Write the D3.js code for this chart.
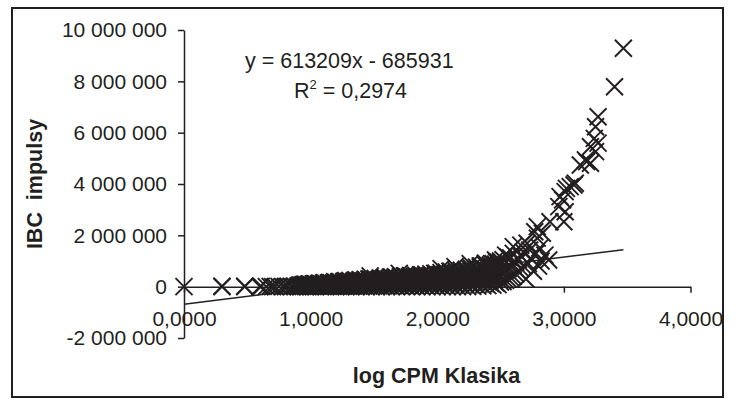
<!DOCTYPE html>
<html><head><meta charset="utf-8">
<script src="https://cdn.jsdelivr.net/npm/d3@7"></script>
<style>
html,body{margin:0;padding:0;background:#fff;}
svg{display:block;font-family:"Liberation Sans",Arial,sans-serif;}
</style></head>
<body><svg id="c" width="739" height="399"></svg>
<script>
// x ticks (log CPM) and y ticks (IBC impulses)
const xTicks = [0, 1, 2, 3, 4];
const yTicks = [-2000000, 0, 2000000, 4000000, 6000000, 8000000, 10000000];
const xTitle = "log CPM Klasika";
const yTitle = "IBC  impulsy";
const eqText = "y = 613209x - 685931";
const r2Text = "0,2974";
const slope = 613209, intercept = -685931;

// low-count points (distinct markers near zero)
const lowPoints = [
 [0.00,0],[0.30,0],[0.30,15000],[0.48,0],[0.48,15000],[0.60,0],[0.61,10000],[0.65,0],[0.68,10000],
 [0.70,0],[0.72,0],[0.75,10000],[0.78,0],[0.80,0],[0.82,15000],[0.85,0],[0.85,10000],
 [0.87,20000],[0.88,0],[0.90,0],[0.90,20000]
];
// dense band (x = log CPM, y = impulses)
const bandPoints = [
 [0.92,0],[0.92,30000],[0.92,70000],[0.94,10000],[0.94,50000],[0.94,80000],
 [0.96,0],[0.96,40000],[0.96,95000],[0.98,5000],[0.98,60000],[0.98,85000],
 [1.00,0],[1.00,45000],[1.00,100000],[1.02,10000],[1.02,70000],[1.02,110000],
 [1.04,0],[1.04,50000],[1.04,120000],[1.06,20000],[1.06,80000],[1.06,105000],
 [1.08,0],[1.08,60000],[1.08,130000],[1.10,10000],[1.10,75000],[1.10,140000],
 [1.12,0],[1.12,90000],[1.12,125000],[1.14,15000],[1.14,70000],[1.14,150000],
 [1.16,0],[1.16,100000],[1.16,160000],[1.18,20000],[1.18,80000],[1.18,145000],
 [1.20,0],[1.20,95000],[1.20,170000],[1.22,10000],[1.22,110000],[1.22,180000],
 [1.24,0],[1.24,90000],[1.24,165000],[1.26,25000],[1.26,120000],[1.26,190000],
 [1.28,0],[1.28,100000],[1.28,230000],[1.30,15000],[1.30,130000],[1.30,200000],
 [1.32,0],[1.32,110000],[1.32,185000],[1.34,30000],[1.34,140000],[1.34,210000],
 [1.36,0],[1.36,120000],[1.36,260000],[1.38,20000],[1.38,150000],[1.38,220000],
 [1.40,0],[1.40,130000],[1.40,240000],[1.42,35000],[1.42,160000],[1.42,230000],
 [1.44,0],[1.44,140000],[1.44,250000],[1.46,25000],[1.46,170000],[1.46,300000],
 [1.48,0],[1.48,150000],[1.48,260000],[1.50,40000],[1.50,180000],[1.50,270000],
 [1.52,0],[1.52,160000],[1.52,250000],[1.54,30000],[1.54,190000],[1.54,290000],
 [1.56,0],[1.56,170000],[1.56,280000],[1.58,45000],[1.58,200000],[1.58,310000],
 [1.60,0],[1.60,180000],[1.60,290000],[1.62,35000],[1.62,210000],[1.62,320000],
 [1.64,0],[1.64,190000],[1.64,380000],[1.66,50000],[1.66,220000],[1.66,330000],
 [1.68,0],[1.68,200000],[1.68,340000],[1.70,40000],[1.70,230000],[1.70,320000],
 [1.72,0],[1.72,210000],[1.72,350000],[1.74,55000],[1.74,240000],[1.74,420000],
 [1.76,0],[1.76,220000],[1.76,360000],[1.78,45000],[1.78,250000],[1.78,380000],
 [1.80,0],[1.80,230000],[1.80,370000],[1.82,60000],[1.82,260000],[1.82,390000],
 [1.84,0],[1.84,240000],[1.84,380000],[1.86,50000],[1.86,270000],[1.86,400000],
 [1.88,0],[1.88,250000],[1.88,460000],[1.90,65000],[1.90,280000],[1.90,410000],
 [1.92,0],[1.92,260000],[1.92,430000],[1.94,55000],[1.94,290000],[1.94,420000],
 [1.96,0],[1.96,270000],[1.96,440000],[1.98,70000],[1.98,300000],[1.98,520000],
 [2.00,0],[2.00,280000],[2.00,450000],[2.02,60000],[2.02,310000],[2.02,470000],
 [2.04,0],[2.04,290000],[2.04,460000],[2.06,75000],[2.06,320000],[2.06,490000],
 [2.08,0],[2.08,300000],[2.08,510000],[2.10,65000],[2.10,330000],[2.10,600000],
 [2.12,0],[2.12,310000],[2.12,500000],[2.14,80000],[2.14,340000],[2.14,530000],
 [2.16,0],[2.16,320000],[2.16,550000],[2.18,70000],[2.18,350000],[2.18,580000],
 [2.20,0],[2.20,330000],[2.20,560000],[2.22,85000],[2.22,360000],[2.22,620000],
 [2.24,0],[2.24,340000],[2.24,590000],[2.26,75000],[2.26,380000],[2.26,680000],
 [2.28,10000],[2.28,360000],[2.28,640000],[2.30,90000],[2.30,400000],[2.30,700000],
 [2.32,20000],[2.32,380000],[2.32,660000],[2.34,100000],[2.34,420000],[2.34,760000],
 [2.36,30000],[2.36,400000],[2.36,720000],[2.38,110000],[2.38,450000],[2.38,850000],
 [2.40,40000],[2.40,430000],[2.40,780000],[2.42,120000],[2.42,480000],[2.42,820000],
 [2.44,60000],[2.44,460000],[2.44,900000],[2.46,150000],[2.46,520000],[2.46,880000],
 [2.48,80000],[2.48,500000],[2.48,950000],[2.50,180000],[2.50,560000],[2.50,1000000],
 [2.52,200000],[2.52,600000],[2.52,1050000],[2.54,250000],[2.54,650000],
 [2.56,300000],[2.56,700000],[2.56,1150000],[2.58,350000],[2.58,800000],
 [2.60,400000],[2.60,850000],[2.60,1300000],[2.62,500000],[2.62,950000],
 [2.64,600000],[2.64,1050000],[2.66,700000],[2.66,1200000],[2.68,800000],[2.68,1350000],
 [2.70,300000],[2.72,900000],[2.74,1100000],[2.76,600000],[2.78,1300000],[2.80,800000],[2.82,1000000]
];
// additional band readings between the columns above
const bandPoints2 = [
 [0.91,50000],[0.93,20000],[0.95,90000],[0.97,30000],[0.99,110000],[1.01,20000],[1.03,120000],
 [1.05,40000],[1.07,140000],[1.09,30000],[1.11,160000],[1.13,50000],[1.15,170000],[1.17,40000],
 [1.19,190000],[1.21,60000],[1.23,200000],[1.25,50000],[1.27,220000],[1.29,70000],[1.31,240000],
 [1.33,60000],[1.35,250000],[1.37,80000],[1.39,270000],[1.41,70000],[1.43,290000],[1.45,90000],
 [1.47,300000],[1.49,80000],[1.51,320000],[1.53,100000],[1.55,340000],[1.57,90000],[1.59,350000],
 [1.61,110000],[1.63,370000],[1.65,100000],[1.67,390000],[1.69,120000],[1.71,400000],[1.73,110000],
 [1.75,420000],[1.77,130000],[1.79,440000],[1.81,120000],[1.83,450000],[1.85,140000],[1.87,470000],
 [1.89,130000],[1.91,490000],[1.93,150000],[1.95,500000],[1.97,140000],[1.99,530000],[2.01,160000],
 [2.03,550000],[2.05,150000],[2.07,570000],[2.09,170000],[2.11,590000],[2.13,160000],[2.15,620000],
 [2.17,180000],[2.19,640000],[2.21,170000],[2.23,680000],[2.25,200000],[2.27,720000],[2.29,220000],
 [2.31,760000],[2.33,250000],[2.35,800000],[2.37,280000],[2.39,860000],[2.41,300000],[2.43,900000],
 [2.45,330000],[2.47,950000],[2.49,350000],
 [1.47,420000],[1.70,520000],[2.03,700000],[2.14,780000],[2.26,900000]
];
// upper branch
const curvePoints = [
 [3.47,9290000],[3.40,7790000],[3.27,6620000],[3.25,6230000],[3.24,5780000],[3.27,5590000],
 [3.21,5450000],[3.25,5260000],[3.17,4940000],[3.21,4810000],[3.13,4740000],[3.18,4870000],
 [3.09,4030000],[3.08,3960000],[3.05,3900000],[3.02,3830000],[3.01,3700000],[2.99,3380000],
 [2.97,3510000],[3.01,2920000],[2.96,3120000],[3.00,2530000],[2.89,2530000],[2.79,2340000],
 [2.83,2080000],[2.79,1890000],[2.77,2140000],[2.66,1620000],[2.60,1560000],[2.71,1690000],
 [2.73,1430000],[2.81,1510000],[2.85,1230000],[2.88,1040000],[2.54,1230000],[2.46,1040000],
 [2.50,960000],[2.58,1120000],[2.42,850000],[2.34,810000],[2.38,920000]
];

const ink = "#231f20";
const svg = d3.select("#c");
const loc = d3.formatLocale({decimal: ",", thousands: " ", grouping: [3], currency: ["", ""], minus: "-"});
const fmtY = loc.format(",d");
const fmtX = loc.format(".4f");

const x = d3.scaleLinear().domain([0, 4]).range([184, 690.5]);
const y = d3.scaleLinear().domain([-2000000, 10000000]).range([338, 30]);

// outer frame
svg.append("rect").attr("x", 12).attr("y", 8).attr("width", 711).attr("height", 389)
  .attr("fill", "none").attr("stroke", ink).attr("stroke-width", 2);

// y axis
const gy = svg.append("g").attr("transform", `translate(${x(0)},0)`)
  .call(d3.axisLeft(y).tickValues(yTicks).tickFormat(fmtY).tickSize(6).tickSizeOuter(0).tickPadding(11));
// x axis
const gx = svg.append("g").attr("transform", `translate(0,${y(0)})`)
  .call(d3.axisBottom(x).tickValues(xTicks).tickFormat(fmtX).tickSize(6).tickSizeOuter(0).tickPadding(18));
[gx, gy].forEach(g => {
  g.select(".domain").attr("stroke", ink).attr("stroke-width", 1.5);
  g.selectAll(".tick line").attr("stroke", ink).attr("stroke-width", 1.5);
  g.selectAll(".tick text").attr("fill", ink).style("font-size", "21px")
    .style("font-family", '"Liberation Sans",Arial,sans-serif');
});

// markers
const allPts = lowPoints.concat(bandPoints, bandPoints2, curvePoints);
const s = 8.5;
svg.append("g").selectAll("path").data(allPts).join("path")
  .attr("d", d => {
    const cx = x(d[0]), cy = y(d[1]);
    return `M${cx - s},${cy - s}L${cx + s},${cy + s}M${cx - s},${cy + s}L${cx + s},${cy - s}`;
  })
  .attr("fill", "none").attr("stroke", ink).attr("stroke-width", 1.9);

// trend line
const xMax = d3.max(allPts, d => d[0]);
svg.append("line")
  .attr("x1", x(0)).attr("y1", y(intercept))
  .attr("x2", x(xMax)).attr("y2", y(slope * xMax + intercept))
  .attr("stroke", ink).attr("stroke-width", 1.5);

// equation
svg.append("text").attr("x", 245).attr("y", 68).attr("fill", ink)
  .style("font-size", "21.5px").text(eqText);
const r2 = svg.append("text").attr("x", 294).attr("y", 98).attr("fill", ink).style("font-size", "21.5px");
r2.append("tspan").text("R");
r2.append("tspan").attr("dy", -9).style("font-size", "13px").text("2");
r2.append("tspan").attr("dy", 9).text(" = " + r2Text);

// axis titles
svg.append("text").attr("x", 436.5).attr("y", 383).attr("text-anchor", "middle")
  .attr("fill", ink).style("font-size", "21.5px").style("font-weight", "bold").text(xTitle);
svg.append("text").attr("transform", "translate(42,184) rotate(-90)").attr("text-anchor", "middle")
  .attr("fill", ink).style("font-size", "21.5px").style("font-weight", "bold")
  .style("white-space", "pre").text(yTitle);
</script></body></html>
